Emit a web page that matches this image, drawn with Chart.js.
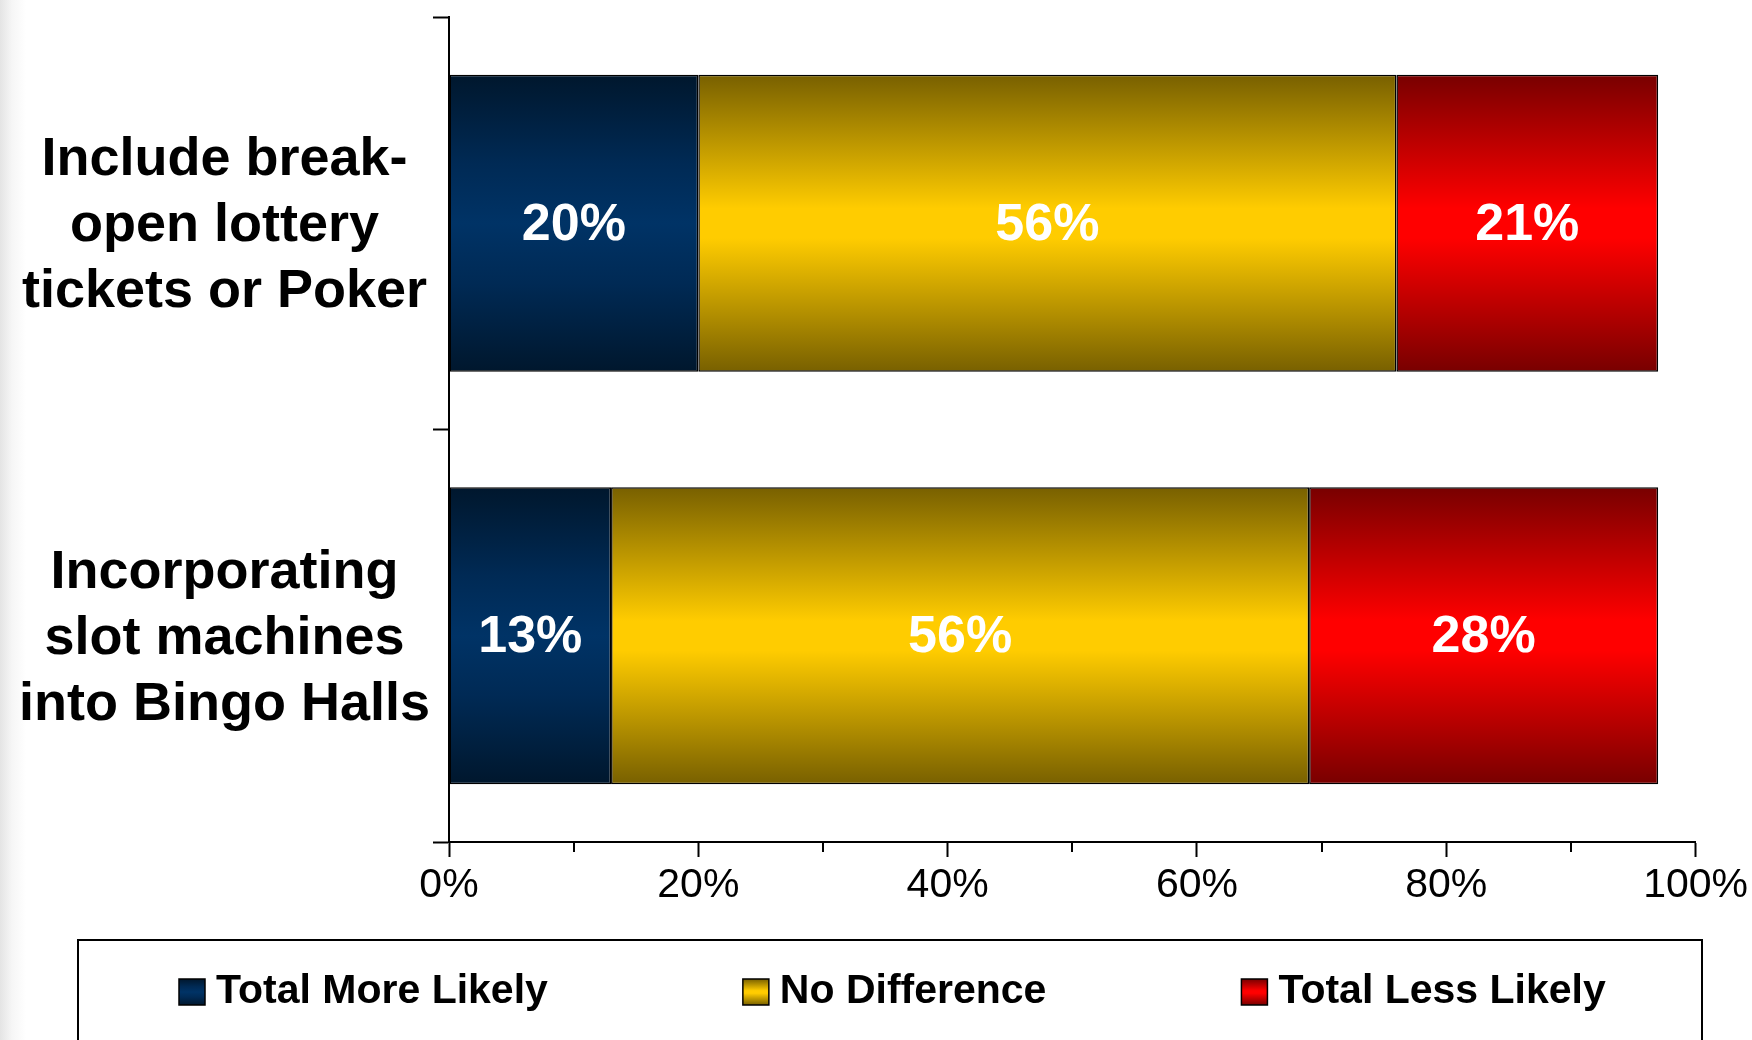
<!DOCTYPE html>
<html>
<head>
<meta charset="utf-8">
<script src="https://cdn.jsdelivr.net/npm/chart.js@4"></script>
<style>
  html, body { margin: 0; padding: 0; overflow: hidden; }
  body { background: linear-gradient(to right, #e4e4e4 0px, #f6f6f6 12px, #ffffff 26px); }
  #wrap { width: 1752px; height: 1040px; position: relative; }
</style>
</head>
<body>
<div id="wrap"><canvas id="chart"></canvas></div>
<script>
// Data
const categories = [
  ['Include break-', 'open lottery', 'tickets or Poker'],
  ['Incorporating', 'slot machines', 'into Bingo Halls']
];
const seriesNames = ['Total More Likely', 'No Difference', 'Total Less Likely'];
const moreLikely = [20, 13];
const noDifference = [56, 56];
const lessLikely = [21, 28];
const xTickValues = [0, 10, 20, 30, 40, 50, 60, 70, 80, 90, 100];
const xTickLabels = ['0%', '', '20%', '', '40%', '', '60%', '', '80%', '', '100%'];

// Styles
const FONT = '"Liberation Sans", Arial, sans-serif';
const CAT_PCT = 0.72;
const GRADS = [
  [[0, '#00172d'], [0.3, '#002a55'], [0.5, '#003366'], [0.7, '#002a55'], [1, '#00172d']],
  [[0, '#786000'], [0.45, '#ffcc00'], [0.55, '#ffcc00'], [1, '#786000']],
  [[0, '#780000'], [0.45, '#ff0000'], [0.55, '#ff0000'], [1, '#780000']]
];

function makeGradient(ctx, top, bottom, stops) {
  let g = ctx.createLinearGradient(0, top, 0, bottom);
  stops.forEach(s => g.addColorStop(s[0], s[1]));
  return g;
}

// gradient for each bar, spanning its own thickness
function barFill(idx) {
  return (c) => {
    let chart = c.chart;
    let y = chart.scales && chart.scales.y;
    let solid = GRADS[idx][2][1];
    if (!y || c.dataIndex === undefined) return solid;
    let center = y.getPixelForValue(c.dataIndex);
    let half = (y.bottom - y.top) / categories.length * CAT_PCT / 2;
    if (!isFinite(center) || !isFinite(half) || half <= 0) return solid;
    return makeGradient(chart.ctx, center - half, center + half, GRADS[idx]);
  };
}

// white % labels inside the bars
const barLabels = {
  id: 'barLabels',
  afterDatasetsDraw(chart) {
    let ctx = chart.ctx;
    ctx.save();
    ctx.font = 'bold 52px ' + FONT;
    ctx.fillStyle = '#ffffff';
    ctx.textAlign = 'center';
    ctx.textBaseline = 'middle';
    chart.data.datasets.forEach((ds, i) => {
      chart.getDatasetMeta(i).data.forEach((el, j) => {
        let p = el.getCenterPoint();
        ctx.fillText(ds.data[j] + '%', p.x, p.y + 2);
      });
    });
    ctx.restore();
  }
};

// short minor ticks on the x axis
const minorTicks = {
  id: 'minorTicks',
  afterDraw(chart) {
    let ctx = chart.ctx;
    let x = chart.scales.x;
    ctx.save();
    ctx.strokeStyle = '#000';
    ctx.lineWidth = 2;
    xTickValues.forEach((v, i) => {
      if (xTickLabels[i] !== '') return;
      let px = Math.round(x.getPixelForValue(v));
      ctx.beginPath();
      ctx.moveTo(px, x.top);
      ctx.lineTo(px, x.top + 10);
      ctx.stroke();
    });
    ctx.restore();
  }
};

// boxed legend at the bottom
const boxLegend = {
  id: 'boxLegend',
  afterDraw(chart) {
    let ctx = chart.ctx;
    let top = chart.chartArea.bottom + 98;
    let left = 78, right = 1702;
    ctx.save();
    ctx.strokeStyle = '#000';
    ctx.lineWidth = 2;
    ctx.strokeRect(left, top, right - left, 200);
    ctx.font = 'bold 41px ' + FONT;
    ctx.textBaseline = 'alphabetic';
    ctx.textAlign = 'left';
    let x = left + 101;
    let boxTop = top + 39, box = 26;
    seriesNames.forEach((name, i) => {
      ctx.fillStyle = makeGradient(ctx, boxTop, boxTop + box, GRADS[i]);
      ctx.fillRect(x, boxTop, box, box);
      ctx.lineWidth = 1.5;
      ctx.strokeRect(x, boxTop, box, box);
      ctx.fillStyle = '#000';
      ctx.fillText(name, x + box + 11, top + 63);
      x += box + 11 + ctx.measureText(name).width + 195;
    });
    ctx.restore();
  }
};

const barSeries = [moreLikely, noDifference, lessLikely];

new Chart(document.getElementById('chart'), {
  type: 'bar',
  data: {
    labels: categories,
    datasets: barSeries.map((vals, i) => ({
      label: seriesNames[i],
      data: vals,
      backgroundColor: barFill(i),
      borderColor: '#000',
      borderWidth: 1.5,
      borderSkipped: false,
      barPercentage: 1,
      categoryPercentage: CAT_PCT
    }))
  },
  options: {
    indexAxis: 'y',
    responsive: true,
    maintainAspectRatio: false,
    animation: false,
    layout: { padding: { top: 17, left: 0, right: 56, bottom: 0 } },
    plugins: {
      legend: { display: false },
      tooltip: { enabled: false }
    },
    scales: {
      x: {
        stacked: true,
        min: 0,
        max: 100,
        afterBuildTicks: (s) => { s.ticks = xTickValues.map(v => ({ value: v })); },
        afterFit: (s) => { s.height = 198; },
        border: { color: '#000', width: 2 },
        grid: {
          drawOnChartArea: false,
          tickLength: 15,
          tickWidth: 2,
          tickColor: (c) => (c.index !== undefined && xTickLabels[c.index] === '') ? 'rgba(0,0,0,0)' : '#000'
        },
        ticks: {
          autoSkip: false,
          maxRotation: 0,
          padding: 4,
          color: '#000',
          font: { family: FONT, size: 41 },
          callback: (v, i) => xTickLabels[i]
        }
      },
      y: {
        stacked: true,
        afterFit: (s) => {
          s.width = 449;
          // multi-line labels must not push the plot down
          s.paddingTop = 0;
          s.paddingBottom = 0;
        },
        border: { color: '#000', width: 2 },
        grid: {
          offset: true,
          drawOnChartArea: false,
          tickLength: 16,
          tickWidth: 2,
          tickColor: '#000'
        },
        ticks: {
          crossAlign: 'center',
          padding: 3,
          labelOffset: 3,
          color: '#000',
          font: { family: FONT, size: 54, weight: 'bold', lineHeight: 1.22 }
        }
      }
    }
  },
  plugins: [barLabels, minorTicks, boxLegend]
});
</script>
</body>
</html>
